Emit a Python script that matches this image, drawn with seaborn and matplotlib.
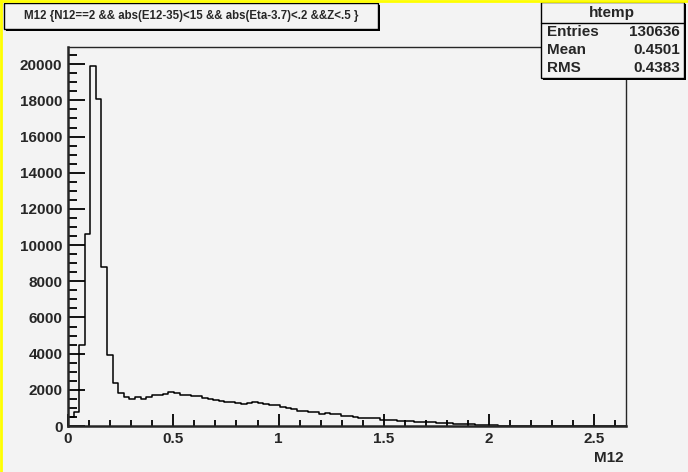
import numpy as np
import pandas as pd
import matplotlib
matplotlib.use("Agg")
import matplotlib.pyplot as plt
import seaborn as sns
from matplotlib import font_manager
from matplotlib.patches import Rectangle
from matplotlib.lines import Line2D
from matplotlib.ticker import MultipleLocator

# Histogram of M12, 100 bins on [0, 2.65], counts
x_min, x_max, n_bins = 0.0, 2.65, 100
counts = [500, 780, 4450, 10600, 19880, 18080, 8810, 3950, 2400, 1810,
          1590, 1490, 1590, 1490, 1630, 1690, 1740, 1780, 1870, 1820,
          1720, 1710, 1660, 1650, 1565, 1475, 1440, 1400, 1345, 1310,
          1255, 1217, 1255, 1310, 1255, 1200, 1165, 1155, 1070, 980,
          920, 835, 825, 760, 750, 665, 700, 650, 640, 575,
          565, 470, 460, 455, 425, 420, 335, 330, 325, 280,
          270, 295, 240, 235, 205, 200, 155, 150, 145, 100,
          95, 90, 90, 40, 35, 35, 30, 25, 10, 5,
          3, 2, 2, 1, 1, 0, 0, 0, 0, 0,
          0, 0, 0, 0, 0, 0, 0, 0, 0, 0]

title_text = "M12 {N12==2 && abs(E12-35)<15 && abs(Eta-3.7)<.2 &&Z<.5 }"
stats_name = "htemp"
stats_rows = [("Entries", "130636"), ("Mean", "0.4501"), ("RMS", "0.4383")]
x_label = "M12"

edges = np.linspace(x_min, x_max, n_bins + 1)
hist_df = pd.DataFrame({"M12": (edges[:-1] + edges[1:]) / 2, "n": counts})

bg = "#f3f3f3"
sns.set_style("ticks")
plt.rcParams["font.family"] = ["Liberation Sans", "DejaVu Sans"]
plt.rcParams["font.weight"] = "bold"

# the title font in the reference is rather narrow
try:
    font_manager.findfont(font_manager.FontProperties(family="Liberation Sans Narrow"),
                          fallback_to_default=False)
    title_family, title_size = ["Liberation Sans Narrow"], 10.5
except ValueError:
    title_family, title_size = ["Liberation Sans"], 8.3

fig = plt.figure(figsize=(6.88, 4.72), dpi=100, facecolor=bg)
ax = fig.add_axes([68 / 688, 46 / 472, 558 / 688, 379 / 472])
ax.set_facecolor(bg)

sns.histplot(data=hist_df, x="M12", weights="n", bins=edges.tolist(), element="step",
             fill=False, color="black", linewidth=1.1, ax=ax)

ax.set_xlim(x_min, x_max)
ax.set_ylim(0, 20950)
ax.set_xlabel("")
ax.set_ylabel("")

ax.xaxis.set_major_locator(MultipleLocator(0.5))
ax.xaxis.set_minor_locator(MultipleLocator(0.1))
ax.yaxis.set_major_locator(MultipleLocator(2000))
ax.yaxis.set_minor_locator(MultipleLocator(500))
ax.xaxis.set_major_formatter(matplotlib.ticker.FuncFormatter(lambda v, p: f"{v:g}"))
ax.tick_params(axis="both", which="both", direction="in", color="black",
               labelsize=11, width=1.3, pad=4)
ax.tick_params(axis="x", which="major", length=9)
ax.tick_params(axis="x", which="minor", length=4.5)
ax.tick_params(axis="y", which="major", length=12)
ax.tick_params(axis="y", which="minor", length=6.5)
for lab in ax.get_xticklabels() + ax.get_yticklabels():
    lab.set_fontweight("bold")
for side in ["left", "bottom"]:
    ax.spines[side].set_linewidth(1.8)
for side in ["top", "right"]:
    ax.spines[side].set_linewidth(1.0)

# axis title at the right end
fig.text(624 / 688, 1 - 458 / 472, x_label, ha="right", va="center",
         fontsize=11, fontweight="bold")

# boxes with a shadow, ROOT style
def box(x0, y0, w, h):
    fig.add_artist(Rectangle((x0 / 688 + 2 / 688, 1 - (y0 + h + 2) / 472), w / 688, h / 472,
                             transform=fig.transFigure, facecolor="black",
                             edgecolor="black", lw=0))
    fig.add_artist(Rectangle((x0 / 688, 1 - (y0 + h) / 472), w / 688, h / 472,
                             transform=fig.transFigure, facecolor=bg,
                             edgecolor="black", lw=1.0))

box(4, 3, 374, 26)
fig.text(191 / 688, 1 - 16 / 472, title_text, ha="center", va="center",
         fontsize=title_size, fontweight="bold", family=title_family)

# stats box
box(541, 2, 143, 76)
fig.add_artist(Line2D([541 / 688, 684 / 688], [1 - 23 / 472, 1 - 23 / 472],
                      transform=fig.transFigure, color="black", lw=1.0))
fig.text(612 / 688, 1 - 12.5 / 472, stats_name, ha="center", va="center",
         fontsize=11, fontweight="bold")
for i, (name, val) in enumerate(stats_rows):
    yy = 1 - (32 + i * 18) / 472
    fig.text(547 / 688, yy, name, ha="left", va="center", fontsize=11, fontweight="bold")
    fig.text(680 / 688, yy, val, ha="right", va="center", fontsize=11, fontweight="bold")

# yellow pad highlight on the top and left edges
fig.add_artist(Line2D([0, 1], [0.998, 0.998], transform=fig.transFigure, color="#ffff00", lw=2))
fig.add_artist(Line2D([0.0015, 0.0015], [0, 1], transform=fig.transFigure, color="#ffff00", lw=2))

fig.savefig("out.png", dpi=100, facecolor=bg)
